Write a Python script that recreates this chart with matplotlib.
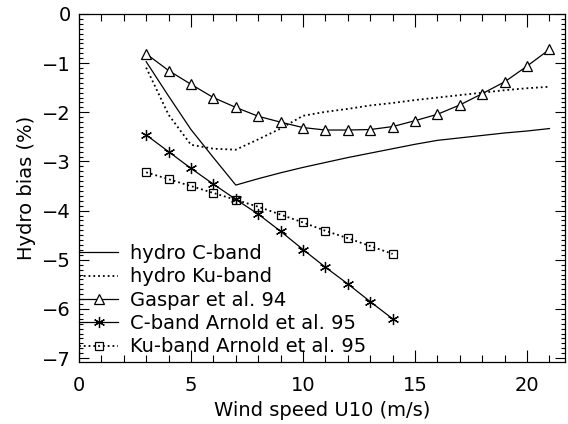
import numpy as np
import matplotlib
matplotlib.use('Agg')
import matplotlib.pyplot as plt
from matplotlib.ticker import MultipleLocator

# wind speeds (m/s)
wind_full = [3, 4, 5, 6, 7, 8, 9, 10, 11, 12, 13, 14, 15, 16, 17, 18, 19, 20, 21]
wind_arnold = [3, 4, 5, 6, 7, 8, 9, 10, 11, 12, 13, 14]

# hydro bias (%)
hydro_c = [-0.97, -1.67, -2.35, -2.92, -3.48, -3.35, -3.23, -3.12, -3.02, -2.92,
           -2.83, -2.74, -2.65, -2.57, -2.52, -2.47, -2.42, -2.38, -2.33]
hydro_ku = [-1.09, -2.05, -2.66, -2.74, -2.76, -2.55, -2.33, -2.07, -1.99, -1.93,
            -1.86, -1.81, -1.75, -1.70, -1.65, -1.60, -1.55, -1.51, -1.48]
gaspar = [-0.81, -1.15, -1.43, -1.70, -1.90, -2.08, -2.20, -2.31, -2.36, -2.36,
          -2.35, -2.29, -2.17, -2.04, -1.85, -1.62, -1.38, -1.06, -0.72]
arnold_c = [-2.46, -2.80, -3.14, -3.46, -3.77, -4.07, -4.42, -4.79, -5.15, -5.49,
            -5.85, -6.20]
arnold_ku = [-3.22, -3.36, -3.50, -3.64, -3.78, -3.92, -4.08, -4.24, -4.41, -4.56,
             -4.72, -4.88]

plt.rcParams['font.family'] = 'DejaVu Sans'
plt.rcParams['font.size'] = 14

fig = plt.figure(figsize=(5.68, 4.24), dpi=100)
ax = fig.add_axes([0.139, 0.146, 0.856, 0.821])

lw = 0.9
ax.plot(wind_full, hydro_c, '-', color='k', lw=lw, label='hydro C-band')
ax.plot(wind_full, hydro_ku, ':', color='k', lw=1.3, label='hydro Ku-band')
ax.plot(wind_full, gaspar, '-', color='k', lw=lw, marker='^', ms=6.5,
        mfc='white', mec='k', mew=0.9, label='Gaspar et al. 94')
ax.plot(wind_arnold, arnold_c, '-', color='k', lw=lw, marker=(6, 2, 0), ms=8,
        mec='k', mew=0.9, label='C-band Arnold et al. 95')
ax.plot(wind_arnold, arnold_ku, ':', color='k', lw=1.3, marker='s', ms=5.5,
        fillstyle='none', mec='k', mew=0.9, label='Ku-band Arnold et al. 95')

ax.set_xlim(0, 21.7)
ax.set_ylim(-7.08, 0)
ax.xaxis.set_major_locator(MultipleLocator(5))
ax.xaxis.set_minor_locator(MultipleLocator(1))
ax.yaxis.set_major_locator(MultipleLocator(1))
ax.yaxis.set_minor_locator(MultipleLocator(0.1))
ax.tick_params(which='both', direction='in', top=True, right=True, width=0.8)
ax.tick_params(axis='x', which='major', length=9, pad=10)
ax.tick_params(axis='x', which='minor', length=5)
ax.tick_params(axis='y', which='major', length=7, pad=6)
ax.tick_params(axis='y', which='minor', length=3)
for s in ax.spines.values():
    s.set_linewidth(0.9)

ax.set_xlabel('Wind speed U10 (m/s)', labelpad=4)
ax.set_ylabel('Hydro bias (%)', labelpad=4)

ax.legend(loc='lower left', bbox_to_anchor=(-0.003, 0.011), frameon=False,
          handlelength=2.0, handletextpad=0.6, labelspacing=0.22,
          borderaxespad=0.0, borderpad=0.1, fontsize=14)

fig.savefig('out.png', dpi=100)
